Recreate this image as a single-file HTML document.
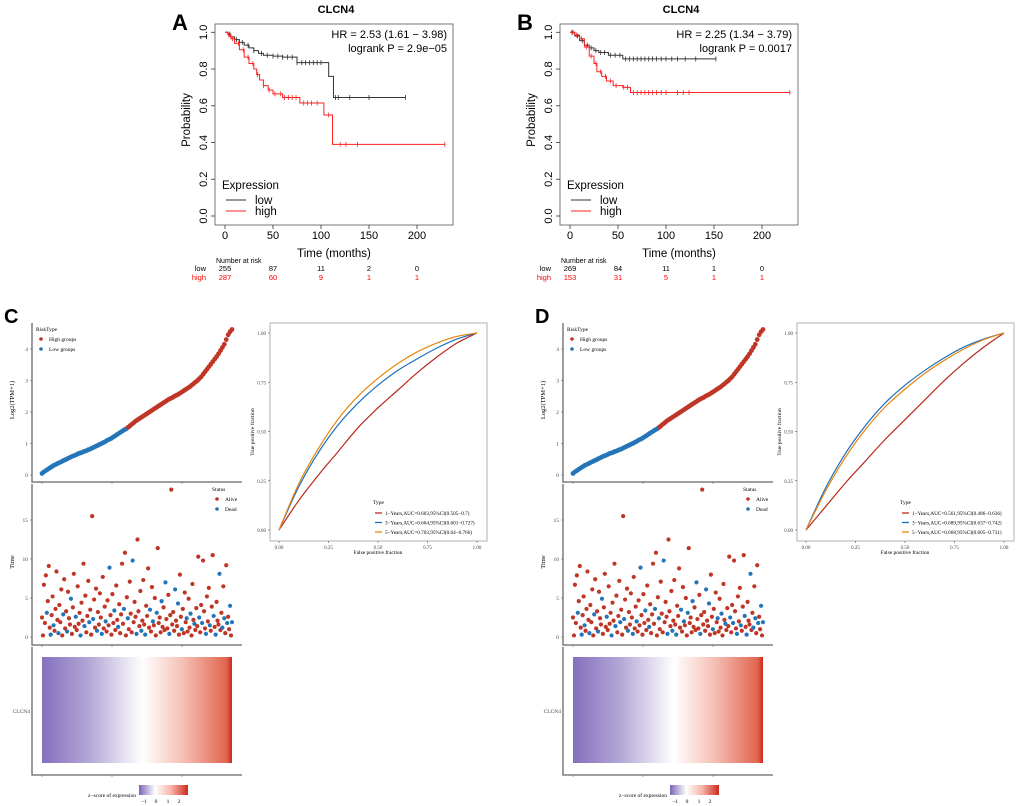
<!DOCTYPE html>
<html><head><meta charset="utf-8"><style>
html,body{margin:0;padding:0;background:#fff;}
svg{display:block;}
.s{font-family:"Liberation Sans",sans-serif;}
.r{font-family:"Liberation Serif",serif;}
</style></head><body>
<svg id="fig" width="1020" height="806" viewBox="0 0 1020 806" xmlns="http://www.w3.org/2000/svg">
<defs>
<linearGradient id="hm" x1="0" x2="1" y1="0" y2="0">
<stop offset="0" stop-color="#8470bd"/><stop offset="0.25" stop-color="#b3a7d6"/><stop offset="0.53" stop-color="#ffffff"/><stop offset="0.75" stop-color="#f5bdb3"/><stop offset="0.97" stop-color="#e06650"/><stop offset="1" stop-color="#cc2a1e"/>
</linearGradient>
<linearGradient id="cb" x1="0" x2="1" y1="0" y2="0">
<stop offset="0" stop-color="#7b64b8"/><stop offset="0.33" stop-color="#ffffff"/><stop offset="0.66" stop-color="#f6b3a5"/><stop offset="1" stop-color="#cc2a1e"/>
</linearGradient>
</defs>
</svg>
<script>
// ---------- KM data ----------
const kmTicks = [0, 50, 100, 150, 200];
const kmYTicks = [0, 0.2, 0.4, 0.6, 0.8, 1.0];
const kmA_lowT = [0, 3, 6, 10, 15, 20, 25, 30, 35, 40, 50, 60, 75, 108, 113];
const kmA_lowS = [1, 0.99, 0.975, 0.96, 0.945, 0.93, 0.915, 0.9, 0.885, 0.875, 0.87, 0.865, 0.835, 0.76, 0.645];
const kmA_lowEnd = 188;
const kmA_lowCens = [5, 12, 18, 24, 30, 38, 44, 50, 55, 60, 65, 70, 75, 80, 84, 88, 92, 96, 100, 115, 118, 130, 150, 188];
const kmA_highT = [0, 3, 6, 10, 15, 20, 25, 30, 33, 36, 40, 45, 50, 60, 78, 103, 112];
const kmA_highS = [1, 0.985, 0.965, 0.94, 0.905, 0.865, 0.83, 0.8, 0.77, 0.74, 0.71, 0.685, 0.665, 0.645, 0.615, 0.55, 0.39];
const kmA_highEnd = 229;
const kmA_highCens = [4, 8, 14, 19, 24, 29, 34, 40, 46, 52, 58, 62, 66, 70, 74, 82, 86, 90, 96, 108, 120, 126, 138, 229];
const kmB_lowT = [0, 5, 10, 15, 20, 25, 30, 40, 55];
const kmB_lowS = [1, 0.98, 0.955, 0.93, 0.915, 0.9, 0.89, 0.875, 0.855];
const kmB_lowEnd = 152;
const kmB_lowCens = [3, 8, 13, 18, 22, 27, 32, 36, 42, 47, 52, 58, 62, 66, 70, 74, 78, 82, 86, 90, 95, 100, 106, 112, 120, 131, 152];
const kmB_highT = [0, 5, 10, 15, 20, 25, 28, 33, 38, 45, 55, 63];
const kmB_highS = [1, 0.985, 0.965, 0.92, 0.87, 0.83, 0.785, 0.76, 0.735, 0.71, 0.7, 0.672];
const kmB_highEnd = 229;
const kmB_highCens = [2, 7, 12, 17, 22, 27, 32, 37, 42, 48, 56, 60, 66, 70, 74, 78, 82, 86, 90, 95, 100, 112, 118, 124, 229];
const riskLow_A = [255, 87, 11, 2, 0];
const riskHigh_A = [287, 60, 9, 1, 1];
const riskLow_B = [269, 84, 11, 1, 0];
const riskHigh_B = [153, 31, 5, 1, 1];

// ---------- Risk plot data (C/D) ----------
const exprSorted = [0.05,0.1,0.14,0.18,0.22,0.26,0.3,0.33,0.36,0.39,0.42,0.45,0.48,0.51,0.54,0.57,0.6,0.62,0.65,0.68,0.7,0.72,0.75,0.77,0.8,0.82,0.85,0.88,0.91,0.94,0.97,1.0,1.03,1.06,1.1,1.13,1.16,1.2,1.24,1.28,1.32,1.36,1.4,1.44,1.47,1.52,1.57,1.62,1.67,1.72,1.76,1.8,1.84,1.88,1.92,1.96,2.0,2.04,2.08,2.12,2.16,2.2,2.24,2.28,2.32,2.36,2.4,2.43,2.46,2.5,2.53,2.56,2.6,2.64,2.68,2.72,2.76,2.8,2.85,2.9,2.95,3.0,3.06,3.12,3.2,3.28,3.36,3.44,3.52,3.6,3.68,3.76,3.85,3.95,4.05,4.15,4.3,4.45,4.55,4.62];
const lowCount = 45;
const survTimeC = [2.5,0.2,6.7,1.8,7.9,3.1,4.6,9.1,1.2,0.3,2.8,5.2,1.5,0.8,3.6,8.4,2.2,0.5,4.1,1.9,6.1,0.2,2.9,7.4,1.1,3.3,0.7,5.8,2.4,1.6,4.9,0.4,3.8,8.1,1.3,2.6,0.9,6.5,1.7,3.1,0.2,4.4,2.1,9.4,1.4,5.3,0.6,2.7,7.2,1.9,3.5,0.3,15.5,2.3,4.8,1.2,6.2,0.8,3.2,1.6,5.6,2.5,0.4,7.7,1.1,3.9,2.0,0.7,4.7,1.5,8.9,2.8,0.3,5.5,1.8,3.4,0.9,6.6,2.2,1.3,4.2,0.5,2.9,9.4,1.7,3.6,10.8,0.2,5.1,2.4,1.0,7.1,3.0,0.6,9.8,1.9,4.5,2.6,0.4,12.5,3.3,1.4,5.9,0.8,2.1,7.3,1.6,0.3,4.0,2.7,8.8,1.2,3.5,0.7,6.4,2.0,1.5,5.0,0.2,3.1,11.4,1.8,2.5,0.6,4.6,1.3,3.8,0.9,7.0,2.3,1.1,5.4,0.4,2.8,18.9,1.6,3.2,0.8,6.1,2.1,1.4,4.3,0.3,8.0,2.6,1.0,3.6,0.5,5.7,1.9,2.4,0.7,4.9,1.2,3.0,0.2,6.8,2.2,1.7,0.9,3.7,1.4,10.3,2.5,0.6,4.1,1.8,9.8,3.3,1.1,0.4,5.2,2.0,6.3,1.5,0.8,3.9,10.5,2.7,1.3,0.3,4.5,2.1,1.6,8.1,0.9,3.1,1.2,6.5,2.4,0.5,9.2,1.8,2.6,1.0,4.0,0.2,1.9];
const survStatC = [0,0,0,0,0,1,0,0,0,1,0,0,1,0,0,0,0,1,0,0,0,0,1,0,0,0,1,0,0,0,1,0,0,0,0,1,0,0,0,0,1,0,0,0,1,0,0,0,0,1,0,0,0,1,0,0,0,1,0,0,0,0,1,0,0,0,1,0,0,0,1,0,0,0,0,1,0,0,0,1,0,0,0,0,0,1,0,0,0,1,0,0,0,0,1,0,0,0,1,0,0,0,0,1,0,0,0,1,0,0,0,0,1,0,0,1,0,0,0,1,0,0,0,0,1,0,0,0,1,0,0,0,1,0,0,0,0,0,1,0,0,1,0,0,0,1,0,0,0,0,1,0,0,0,1,0,0,0,1,0,0,0,0,1,0,0,1,0,0,0,1,0,0,0,1,0,0,0,1,0,1,0,0,0,1,0,0,1,0,1,0,0,1,0,0,1,0,1,0,0];

// ---------- ROC data ----------
const rocFpr = [0, 0.1, 0.2, 0.3, 0.4, 0.5, 0.6, 0.7, 0.8, 0.9, 1];
const rocC_1y = [0, 0.15, 0.28, 0.4, 0.52, 0.62, 0.71, 0.8, 0.88, 0.95, 1];
const rocC_3y = [0, 0.22, 0.395, 0.535, 0.645, 0.735, 0.81, 0.87, 0.925, 0.97, 1];
const rocC_5y = [0, 0.235, 0.415, 0.565, 0.68, 0.77, 0.845, 0.905, 0.95, 0.983, 1];
const rocD_1y = [0, 0.12, 0.24, 0.35, 0.46, 0.56, 0.66, 0.76, 0.85, 0.93, 1];
const rocD_3y = [0, 0.215, 0.39, 0.53, 0.645, 0.735, 0.81, 0.875, 0.93, 0.97, 1];
const rocD_5y = [0, 0.2, 0.37, 0.51, 0.625, 0.715, 0.795, 0.862, 0.92, 0.967, 1];
const rocLabelsC = ["1\u2212Years,AUC=0.603,95%CI(0.505\u22120.7)", "3\u2212Years,AUC=0.664,95%CI(0.601\u22120.727)", "5\u2212Years,AUC=0.703,95%CI(0.64\u22120.766)"];
const rocLabelsD = ["1\u2212Years,AUC=0.561,95%CI(0.486\u22120.636)", "3\u2212Years,AUC=0.689,95%CI(0.637\u22120.742)", "5\u2212Years,AUC=0.668,95%CI(0.605\u22120.731)"];
const rocTicks = [0, 0.25, 0.5, 0.75, 1];

const svg = document.getElementById('fig');
const NS = 'http://www.w3.org/2000/svg';
function mk(tag, attrs, parent, text) {
  const e = document.createElementNS(NS, tag);
  for (const k in attrs) e.setAttribute(k, attrs[k]);
  if (text !== undefined) e.textContent = text;
  (parent || svg).appendChild(e);
  return e;
}
function grp(name) {
  const g = mk('g', {});
  
  
  return g;
}
function stepY(T, S, t) { let s = S[0]; for (let i = 0; i < T.length; i++) if (T[i] <= t) s = S[i]; return s; }

function km(ox, label, hr, p, lowT, lowS, lowEnd, lowC, highT, highS, highEnd, highC, rl, rh) {
  const g = grp('km-panel-' + label.toLowerCase());
  const X = t => ox + 225 + t * 0.96;
  const Y = v => 216 - v * 183.7;
  let e = mk('text', {x: ox + 172, y: 30, 'font-size': 22, 'font-weight': 'bold', class: 's'}, g, label);
   
  e = mk('text', {x: ox + 336, y: 13, 'font-size': 11, 'font-weight': 'bold', 'text-anchor': 'middle', class: 's'}, g, 'CLCN4');
   
  e = mk('rect', {x: ox + 215, y: 24, width: 238, height: 201, fill: 'none', stroke: '#555', 'stroke-width': 0.8}, g);
   
  kmYTicks.forEach(v => {
    mk('line', {x1: ox + 211, x2: ox + 215, y1: Y(v), y2: Y(v), stroke: '#333', 'stroke-width': 0.8}, g);
    e = mk('text', {x: ox + 207, y: Y(v), 'font-size': 11, 'text-anchor': 'middle', transform: `rotate(-90 ${ox + 207} ${Y(v)})`, class: 's'}, g, v.toFixed(1));
     
  });
  kmTicks.forEach((t, i) => {
    mk('line', {x1: X(t), x2: X(t), y1: 225, y2: 229, stroke: '#333', 'stroke-width': 0.8}, g);
    e = mk('text', {x: X(t), y: 239, 'font-size': 11, 'text-anchor': 'middle', class: 's'}, g, t);
     
    e = mk('text', {x: X(t), y: 271, 'font-size': 7.5, 'text-anchor': 'middle', class: 's'}, g, rl[i]);
     
    e = mk('text', {x: X(t), y: 280, 'font-size': 7.5, 'text-anchor': 'middle', fill: '#f00', class: 's'}, g, rh[i]);
     
  });
  e = mk('text', {x: ox + 334, y: 257, 'font-size': 11.5, 'text-anchor': 'middle', class: 's'}, g, 'Time (months)');
   
  e = mk('text', {x: ox + 190, y: 120, 'font-size': 11.5, 'text-anchor': 'middle', transform: `rotate(-90 ${ox + 190} 120)`, class: 's'}, g, 'Probability');
   
  e = mk('text', {x: ox + 216, y: 263, 'font-size': 7, class: 's'}, g, 'Number at risk');
   
  e = mk('text', {x: ox + 206, y: 271, 'font-size': 7.5, 'text-anchor': 'end', class: 's'}, g, 'low');
   
  e = mk('text', {x: ox + 206, y: 280, 'font-size': 7.5, 'text-anchor': 'end', fill: '#f00', class: 's'}, g, 'high');
   
  e = mk('text', {x: ox + 447, y: 38, 'font-size': 11, 'text-anchor': 'end', class: 's'}, g, hr);
   
  e = mk('text', {x: ox + 447, y: 52, 'font-size': 11, 'text-anchor': 'end', class: 's'}, g, p);
   
  function curve(T, S, end, C, col, name) {
    let d = `M${X(T[0])},${Y(S[0])}`;
    for (let i = 1; i < T.length; i++) d += ` H${X(T[i])} V${Y(S[i])}`;
    d += ` H${X(end)}`;
    const pth = mk('path', {d: d, fill: 'none', stroke: col, 'stroke-width': 1}, g);
     
    C.forEach(t => {
      const y = Y(stepY(T, S, t));
      const c = mk('line', {x1: X(t), x2: X(t), y1: y - 2.5, y2: y + 2.5, stroke: col, 'stroke-width': 0.8}, g);
       
    });
  }
  curve(lowT, lowS, lowEnd, lowC, '#333', 'low-curve');
  curve(highT, highS, highEnd, highC, '#f22', 'high-curve');
  e = mk('text', {x: ox + 222, y: 189, 'font-size': 11.5, class: 's'}, g, 'Expression');
   
  mk('line', {x1: ox + 226, x2: ox + 246, y1: 200, y2: 200, stroke: '#333'}, g);
  e = mk('text', {x: ox + 255, y: 204, 'font-size': 11.5, class: 's'}, g, 'low');
   
  mk('line', {x1: ox + 226, x2: ox + 246, y1: 211, y2: 211, stroke: '#f22'}, g);
  e = mk('text', {x: ox + 255, y: 215, 'font-size': 11.5, class: 's'}, g, 'high');
   
}
km(0, 'A', 'HR = 2.53 (1.61 \u2212 3.98)', 'logrank P = 2.9e\u221205', kmA_lowT, kmA_lowS, kmA_lowEnd, kmA_lowCens, kmA_highT, kmA_highS, kmA_highEnd, kmA_highCens, riskLow_A, riskHigh_A);
km(345, 'B', 'HR = 2.25 (1.34 \u2212 3.79)', 'logrank P = 0.0017', kmB_lowT, kmB_lowS, kmB_lowEnd, kmB_lowCens, kmB_highT, kmB_highS, kmB_highEnd, kmB_highCens, riskLow_B, riskHigh_B);

const RED = '#bf3526', BLUE = '#2475b8';
function risk(ox, label, times, stat) {
  const g = grp('risk-panel-' + label.toLowerCase());
  let e = mk('text', {x: ox + 4, y: 323, 'font-size': 20, 'font-weight': 'bold', class: 's'}, g, label);
   
  const x0 = ox + 42, x1 = ox + 232;
  const axc = '#666';
  mk('path', {d: `M${ox + 32},323 V482 H${ox + 242}`, fill: 'none', stroke: axc, 'stroke-width': 1.3}, g);
  [0, 1, 2, 3, 4].forEach(v => {
    const y = 475 - v * 31.5;
    mk('line', {x1: ox + 30, x2: ox + 32, y1: y, y2: y, stroke: axc, 'stroke-width': 0.6}, g);
    e = mk('text', {x: ox + 28, y: y + 2, 'font-size': 5.5, 'text-anchor': 'end', fill: '#444', class: 'r'}, g, v);
     
  });
  e = mk('text', {x: ox + 14, y: 400, 'font-size': 6.5, 'text-anchor': 'middle', transform: `rotate(-90 ${ox + 14} 400)`, class: 'r'}, g, 'Log2(TPM+1)');
   
  const n = exprSorted.length;
  exprSorted.forEach((v, i) => {
    const c = mk('circle', {cx: x0 + (x1 - x0) * i / (n - 1), cy: 475 - v * 31.5, r: 2.4, fill: i < lowCount ? BLUE : RED}, g);
     
  });
  e = mk('text', {x: ox + 36, y: 331, 'font-size': 5.5, class: 'r'}, g, 'RiskType');
   
  mk('circle', {cx: ox + 41, cy: 339, r: 1.8, fill: RED}, g);
  e = mk('text', {x: ox + 49, y: 341, 'font-size': 5.5, class: 'r'}, g, 'High groups');
   
  mk('circle', {cx: ox + 41, cy: 349, r: 1.8, fill: BLUE}, g);
  e = mk('text', {x: ox + 49, y: 351, 'font-size': 5.5, class: 'r'}, g, 'Low groups');
   
  mk('path', {d: `M${ox + 32},484 V645 H${ox + 242}`, fill: 'none', stroke: axc, 'stroke-width': 1.3}, g);
  [0, 5, 10, 15].forEach(v => {
    const y = 637 - v * 7.8;
    mk('line', {x1: ox + 30, x2: ox + 32, y1: y, y2: y, stroke: axc, 'stroke-width': 0.6}, g);
    e = mk('text', {x: ox + 28, y: y + 2, 'font-size': 5.5, 'text-anchor': 'end', fill: '#444', class: 'r'}, g, v);
     
  });
  [482, 645, 775].forEach(yy => [42, 112, 182].forEach(xx => mk('line', {x1: ox + xx, x2: ox + xx, y1: yy, y2: yy + 2, stroke: axc, 'stroke-width': 0.6}, g)));
  e = mk('text', {x: ox + 14, y: 562, 'font-size': 6.5, 'text-anchor': 'middle', transform: `rotate(-90 ${ox + 14} 562)`, class: 'r'}, g, 'Time');
   
  const m = times.length;
  times.forEach((t, i) => {
    const c = mk('circle', {cx: x0 + (x1 - x0) * i / (m - 1), cy: 637 - t * 7.8, r: 2.1, fill: stat[i] ? BLUE : RED}, g);
     
  });
  e = mk('text', {x: ox + 212, y: 491, 'font-size': 5.5, class: 'r'}, g, 'Status');
   
  mk('circle', {cx: ox + 217, cy: 499, r: 1.8, fill: RED}, g);
  e = mk('text', {x: ox + 225, y: 501, 'font-size': 5.5, class: 'r'}, g, 'Alive');
   
  mk('circle', {cx: ox + 217, cy: 509, r: 1.8, fill: BLUE}, g);
  e = mk('text', {x: ox + 225, y: 511, 'font-size': 5.5, class: 'r'}, g, 'Dead');
   
  mk('path', {d: `M${ox + 32},647 V775 H${ox + 242}`, fill: 'none', stroke: axc, 'stroke-width': 1.3}, g);
  e = mk('rect', {x: ox + 42, y: 657, width: 190, height: 106, fill: 'url(#hm)'}, g);
   
  e = mk('text', {x: ox + 30, y: 713, 'font-size': 5.5, 'text-anchor': 'end', fill: '#444', class: 'r'}, g, 'CLCN4');
   
  e = mk('text', {x: ox + 136, y: 797, 'font-size': 5.5, 'text-anchor': 'end', class: 'r'}, g, 'z\u2212score of expression');
   
  e = mk('rect', {x: ox + 139, y: 785, width: 49, height: 10, fill: 'url(#cb)'}, g);
   
  [['\u22121', 144], ['0', 156], ['1', 168], ['2', 179]].forEach(a => {
    const tt = mk('text', {x: ox + a[1], y: 803, 'font-size': 5.5, 'text-anchor': 'middle', class: 'r'}, g, a[0]);
     
  });
}
risk(0, 'C', survTimeC, survStatC);
risk(531, 'D', survTimeC, survStatC);

function roc(ox, label, s1, s3, s5, labels) {
  const g = grp('roc-panel-' + label.toLowerCase());
  const X = v => ox + 279 + v * 198;
  const Y = v => 530 - v * 197;
  let e = mk('rect', {x: ox + 270, y: 323, width: 217, height: 218, fill: 'none', stroke: '#aaa', 'stroke-width': 0.9}, g);
   
  rocTicks.forEach(v => {
    mk('line', {x1: ox + 268, x2: ox + 270, y1: Y(v), y2: Y(v), stroke: '#555', 'stroke-width': 0.6}, g);
    e = mk('text', {x: ox + 266, y: Y(v) + 2, 'font-size': 5, 'text-anchor': 'end', fill: '#444', class: 'r'}, g, v.toFixed(2));
     
    mk('line', {x1: X(v), x2: X(v), y1: 541, y2: 543, stroke: '#555', 'stroke-width': 0.6}, g);
    e = mk('text', {x: X(v), y: 549, 'font-size': 5, 'text-anchor': 'middle', fill: '#444', class: 'r'}, g, v.toFixed(2));
     
  });
  e = mk('text', {x: X(0.5), y: 554, 'font-size': 5.5, 'text-anchor': 'middle', class: 'r'}, g, 'False positive fraction');
   
  e = mk('text', {x: ox + 254, y: 432, 'font-size': 5.5, 'text-anchor': 'middle', transform: `rotate(-90 ${ox + 254} 432)`, class: 'r'}, g, 'True positive fraction');
   
  const cols = ['#b8281c', '#1a6fbf', '#e8850c'];
  const names = ['roc-1-year', 'roc-3-year', 'roc-5-year'];
  [s1, s3, s5].forEach((s, k) => {
    const pts = rocFpr.map((f, i) => [X(f), Y(s[i])]);
    let d = `M${pts[0][0]},${pts[0][1]}`;
    for (let i = 1; i < pts.length; i++) {
      const p0 = pts[Math.max(0, i - 2)], p1 = pts[i - 1], p2 = pts[i], p3 = pts[Math.min(pts.length - 1, i + 1)];
      d += ` C${p1[0] + (p2[0] - p0[0]) / 6},${p1[1] + (p2[1] - p0[1]) / 6} ${p2[0] - (p3[0] - p1[0]) / 6},${p2[1] - (p3[1] - p1[1]) / 6} ${p2[0]},${p2[1]}`;
    }
    const pth = mk('path', {d: d, fill: 'none', stroke: cols[k], 'stroke-width': 1.2}, g);
     
  });
  e = mk('text', {x: ox + 373, y: 504, 'font-size': 5.5, class: 'r'}, g, 'Type');
   
  labels.forEach((t, k) => {
    const y = 513 + k * 9.5;
    mk('line', {x1: ox + 375, x2: ox + 382, y1: y, y2: y, stroke: cols[k], 'stroke-width': 1.3}, g);
    const tt = mk('text', {x: ox + 385, y: y + 2, 'font-size': 5.2, class: 'r'}, g, t);
     
  });
}
roc(0, 'C', rocC_1y, rocC_3y, rocC_5y, rocLabelsC);
roc(527, 'D', rocD_1y, rocD_3y, rocD_5y, rocLabelsD);
</script>
</body></html>
